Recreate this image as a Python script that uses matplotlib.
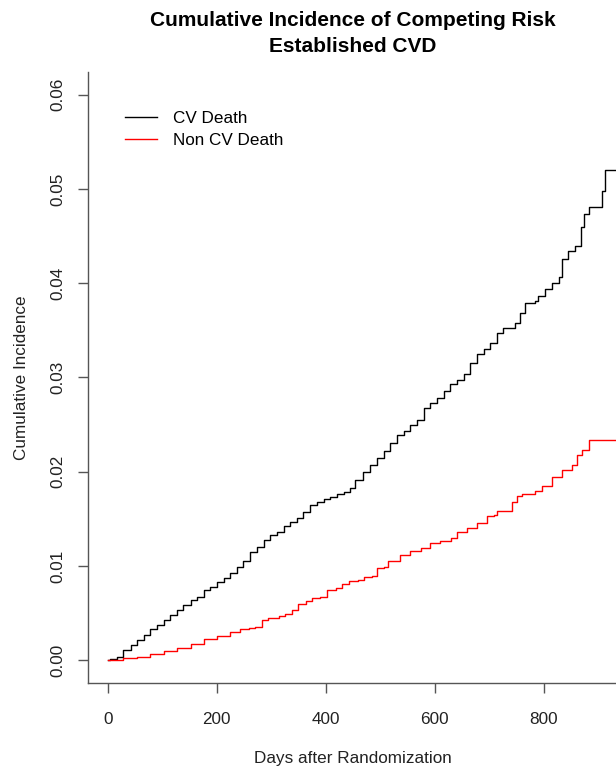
import matplotlib
matplotlib.use("Agg")
import matplotlib.pyplot as plt

plt.rcParams['font.family'] = ['Liberation Sans', 'DejaVu Sans']

# Data (days, cumulative incidence)
cv_days = [0, 5, 17, 29, 42, 54, 66, 78, 90, 103, 115, 127, 139, 152, 164, 176, 188,
           200, 213, 225, 237, 249, 262, 274, 286, 298, 310, 323, 335, 347, 359, 372,
           384, 396, 408, 420, 433, 445, 454, 469, 482, 494, 506, 518, 531, 543, 555,
           567, 580, 592, 604, 616, 628, 641, 653, 665, 677, 690, 702, 714, 726, 739,
           748, 757, 766, 784, 790, 803, 815, 827, 833, 845, 858, 869, 873, 882, 906,
           913, 1000]
cv_inc = [0, 0.0001, 0.00035, 0.00106, 0.0016, 0.00213, 0.00266, 0.00337, 0.00372,
          0.00426, 0.00479, 0.00532, 0.00585, 0.00638, 0.00673, 0.00745, 0.0078,
          0.00833, 0.00869, 0.00922, 0.00993, 0.0105, 0.0115, 0.01205, 0.01277,
          0.0133, 0.01365, 0.01426, 0.01471, 0.01507, 0.01578, 0.01649, 0.01684,
          0.01709, 0.01731, 0.01766, 0.01784, 0.01827, 0.01915, 0.02003, 0.02074,
          0.02146, 0.02216, 0.02305, 0.02394, 0.02429, 0.025, 0.02553, 0.02678,
          0.02731, 0.02784, 0.02854, 0.02926, 0.02971, 0.03032, 0.03156, 0.03245,
          0.03298, 0.03369, 0.03476, 0.03529, 0.03529, 0.03582, 0.03688, 0.03795,
          0.03812, 0.03865, 0.03936, 0.04007, 0.04061, 0.04255, 0.04344, 0.04397,
          0.04593, 0.04734, 0.04805, 0.04982, 0.05205, 0.05205]

noncv_days = [0, 5, 29, 54, 78, 103, 127, 152, 176, 200, 225, 243, 259, 271, 283, 295,
              314, 326, 338, 350, 363, 375, 390, 402, 418, 430, 442, 460, 470, 485,
              494, 506, 515, 537, 555, 574, 592, 610, 629, 641, 659, 677, 696, 708,
              714, 732, 742, 751, 760, 775, 784, 797, 815, 833, 852, 861, 870, 882,
              1000]
noncv_inc = [0, 0, 0.00029, 0.00035, 0.00071, 0.00099, 0.00135, 0.00178, 0.00231,
             0.00255, 0.00301, 0.0033, 0.00344, 0.00354, 0.00426, 0.0045, 0.00468,
             0.00497, 0.00532, 0.00603, 0.00628, 0.00663, 0.00673, 0.00745, 0.00769,
             0.00805, 0.0084, 0.00851, 0.00886, 0.00897, 0.00976, 0.00993, 0.01053,
             0.01117, 0.0116, 0.01195, 0.01241, 0.01266, 0.01301, 0.01359, 0.01401,
             0.01461, 0.01535, 0.01543, 0.01585, 0.01585, 0.01684, 0.01748, 0.01763,
             0.01766, 0.01798, 0.01844, 0.0195, 0.02021, 0.02074, 0.02181, 0.02234,
             0.02333, 0.02333]

x_ticks = [0, 200, 400, 600, 800]
y_ticks = [0.00, 0.01, 0.02, 0.03, 0.04, 0.05, 0.06]
y_ticklabels = ["0.00", "0.01", "0.02", "0.03", "0.04", "0.05", "0.06"]
labels = ["CV Death", "Non CV Death"]

W, H = 616, 771
FS = 12.3
fig = plt.figure(figsize=(W / 100, H / 100), dpi=100)
ax = fig.add_axes([88 / W, 1 - 683 / H, (618 - 88) / W, (683 - 72) / H])

ax.plot(cv_days, cv_inc, drawstyle='steps-post', color='black', lw=1.0, label=labels[0])
ax.plot(noncv_days, noncv_inc, drawstyle='steps-post', color='#ff0000', lw=1.0, label=labels[1])

ax.set_xlim(-36, 936)
ax.set_ylim(-0.0024, 0.0624)
ax.set_xticks(x_ticks)
ax.set_xticklabels([str(t) for t in x_ticks])
ax.set_yticks(y_ticks)
ax.set_yticklabels(y_ticklabels, rotation=90, va='center')

for s in ['top', 'right']:
    ax.spines[s].set_visible(False)
for s in ['left', 'bottom']:
    ax.spines[s].set_color('#555555')
    ax.spines[s].set_linewidth(1.0)
ax.tick_params(axis='both', length=7, width=1.0, color='#555555', labelsize=FS,
               labelcolor='#222222')
ax.tick_params(axis='x', pad=14)
ax.tick_params(axis='y', pad=9)

ax.set_xlabel("Days after Randomization", fontsize=FS, color='#222222', labelpad=17.5)
ax.set_ylabel("Cumulative Incidence", fontsize=FS, color='#222222', labelpad=16)

fig.text(353 / W, 1 - 21 / H, "Cumulative Incidence of Competing Risk", ha='center',
         va='center', fontsize=15, fontweight='bold', color='black')
fig.text(353 / W, 1 - 46 / H, "Established CVD", ha='center', va='center',
         fontsize=15, fontweight='bold', color='black')

ax.legend(loc='upper left', bbox_to_anchor=(0.057, 0.948), frameon=False, fontsize=FS,
          handlelength=1.87, handletextpad=0.94, labelspacing=0.42, borderaxespad=0)

fig.savefig("out.png", dpi=100)
